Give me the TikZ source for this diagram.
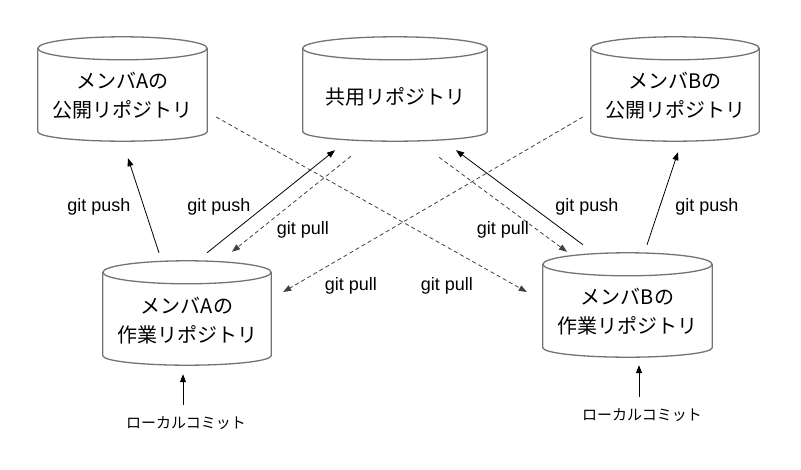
\documentclass[tikz,border=0pt]{standalone}
\usepackage{fontspec}
\setmainfont{Liberation Sans}
\newfontfamily\jp{Noto Sans CJK JP}
\usetikzlibrary{calc,arrows.meta}
\begin{document}
\begin{tikzpicture}[x=1pt,y=-1pt,
  cylbox/.style={inner sep=0pt,minimum height=104pt},
  cyltext/.style={font=\jp\fontsize{20pt}{29pt}\selectfont,align=center,yshift=-7pt,inner sep=0pt},
  cylline/.style={draw=black!55,line width=1.3pt},
  lbl/.style={font=\fontsize{18pt}{20pt}\selectfont,inner sep=0pt},
  loc/.style={font=\jp\fontsize{15pt}{17pt}\selectfont,inner sep=0pt},
  push/.style={-{Triangle[length=8pt,width=6pt]},line width=0.8pt},
  pull/.style={-{Triangle[length=8pt,width=6pt]},line width=0.8pt,draw=black!75,dash pattern=on 4pt off 3pt}]
\useasboundingbox (0,0) rectangle (801,470);
\node[cylbox,minimum width=169pt,label={[cyltext]center:{メンバAの\\公開リポジトリ}}] (apub) at (122.5,89) {};
\node[cylbox,minimum width=184pt,label={[cyltext,yshift=-1pt]center:{共用リポジトリ}}] (shared) at (395,89) {};
\node[cylbox,minimum width=168pt,label={[cyltext]center:{メンバBの\\公開リポジトリ}}] (bpub) at (675,89) {};
\node[cylbox,minimum width=168pt,label={[cyltext,yshift=-0.5pt]center:{メンバAの\\作業リポジトリ}}] (awork) at (187,313) {};
\node[cylbox,minimum width=169pt,label={[cyltext]center:{メンバBの\\作業リポジトリ}}] (bwork) at (627.5,305) {};
\foreach \nm in {apub,shared,bpub,awork,bwork}{
  \draw[cylline] let \p1=(\nm.north west), \p2=(\nm.south east), \n1={(\x2-\x1)/2} in
    ($(\nm.north west)+(0,-11.5pt)$) -- ($(\nm.south west)+(0,9.5pt)$)
    arc[start angle=180,end angle=360,x radius=\n1,y radius=9.5pt]
    -- ($(\nm.north east)+(0,-11.5pt)$);
  \draw[cylline] let \p1=(\nm.north west), \p2=(\nm.south east), \n1={(\x2-\x1)/2} in
    ($(\nm.north)+(0,-11.5pt)$) ellipse[x radius=\n1,y radius=11.5pt];
}
\node[loc] (la) at (186,423) {ローカルコミット};
\node[loc] (lb) at (642,415) {ローカルコミット};
% connectors
\draw[push] ($(awork.north)+(-28,-8)$) -- ($(apub.south)+(5.5,17)$);
\draw[push] ($(awork.north)+(20,-8)$) -- ($(shared.south)+(-60,9)$);
\draw[pull] ($(shared.south)+(-44,15)$) -- ($(awork.north)+(45,-9)$);
\draw[pull] ($(bpub.west)+(-8,28)$) -- ($(awork.east)+(12,-21)$);
\draw[pull] ($(apub.east)+(9,28)$) -- ($(bwork.west)+(-16,-13)$);
\draw[pull] ($(shared.south)+(44,16)$) -- ($(bwork.north)+(-60.5,-1)$);
\draw[push] ($(bwork.north)+(-44.5,-8)$) -- ($(shared.south)+(61,9)$);
\draw[push] ($(bwork.north)+(19.5,-8)$) -- ($(bpub.south)+(3,11)$);
\draw[push] ($(la.center)+(-3,-18)$) -- ($(awork.south)+(-4,9)$);
\draw[push] ($(lb.center)+(-3,-18)$) -- ($(bwork.south)+(11.5,8)$);
% labels
\node[lbl] (l1) at (99,207) {git push};
\node[lbl] (l2) at (219,207) {git push};
\node[lbl] (l3) at (303,230) {git pull};
\node[lbl] (l4) at (351,286) {git pull};
\node[lbl] (l5) at (447,286) {git pull};
\node[lbl] (l6) at (503,230) {git pull};
\node[lbl] (l7) at (587,207) {git push};
\node[lbl] (l8) at (707,207) {git push};
\end{tikzpicture}
\end{document}
